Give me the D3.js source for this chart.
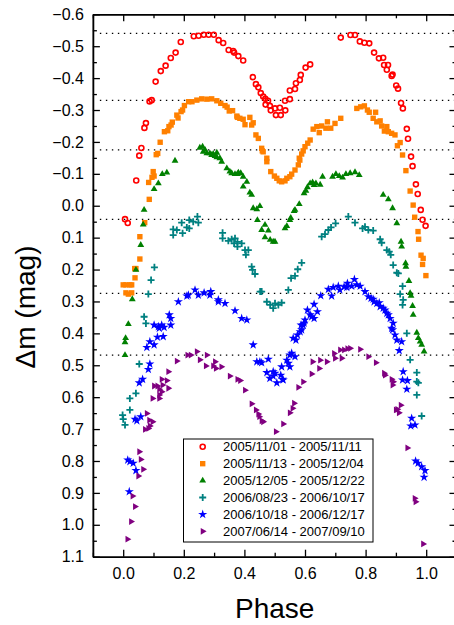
<!DOCTYPE html>
<html><head><meta charset="utf-8">
<script src="https://cdn.jsdelivr.net/npm/d3@7"></script>
<style>body{margin:0;background:#fff} svg{display:block} text{font-family:"Liberation Sans",Arial,sans-serif}</style>
</head><body><svg id="c" width="454" height="625"></svg>
<script>
const seriesNames = ["2005/11/01 - 2005/11/11","2005/11/13 - 2005/12/04","2005/12/05 - 2005/12/22","2006/08/23 - 2006/10/17","2006/10/18 - 2006/12/17","2007/06/14 - 2007/09/10"];
const xTicks = [0.0,0.2,0.4,0.6,0.8,1.0];
const xMinorTicks = [-0.1,0.1,0.3,0.5,0.7,0.9,1.1];
const yTicks = [-0.6,-0.5,-0.4,-0.3,-0.2,-0.1,0.0,0.1,0.2,0.3,0.4,0.5,0.6,0.7,0.8,0.9,1.0,1.1];
const yMinorTicks = [-0.55,-0.45,-0.35,-0.25,-0.15,-0.05,0.05,0.15,0.25,0.35,0.45,0.55,0.65,0.75,0.85,0.95,1.05];
const refLevels = [-0.540,-0.330,-0.175,0.0425,0.2745,0.468];

const red = [[0.006,0.042],[0.015,0.054],[0.043,-0.079],[0.053,-0.157],[0.060,-0.181],[0.070,-0.244],[0.075,-0.259],[0.087,-0.327],[0.094,-0.331],[0.107,-0.389],[0.124,-0.422],[0.140,-0.439],[0.157,-0.463],[0.173,-0.480],[0.190,-0.513],[0.233,-0.531],[0.249,-0.533],[0.266,-0.536],[0.282,-0.536],[0.299,-0.536],[0.315,-0.519],[0.330,-0.510],[0.348,-0.488],[0.363,-0.485],[0.366,-0.480],[0.380,-0.469],[0.396,-0.455],[0.428,-0.403],[0.438,-0.381],[0.446,-0.371],[0.454,-0.353],[0.462,-0.342],[0.469,-0.335],[0.478,-0.329],[0.470,-0.317],[0.484,-0.313],[0.487,-0.299],[0.501,-0.305],[0.504,-0.284],[0.517,-0.307],[0.520,-0.284],[0.535,-0.299],[0.534,-0.329],[0.550,-0.334],[0.550,-0.361],[0.567,-0.366],[0.570,-0.384],[0.583,-0.394],[0.586,-0.410],[0.602,-0.433],[0.617,-0.443],[0.718,-0.527],[0.750,-0.535],[0.765,-0.535],[0.781,-0.515],[0.796,-0.511],[0.812,-0.509],[0.828,-0.480],[0.844,-0.462],[0.858,-0.464],[0.861,-0.441],[0.874,-0.441],[0.870,-0.426],[0.889,-0.411],[0.886,-0.407],[0.901,-0.377],[0.907,-0.367],[0.917,-0.322],[0.923,-0.305],[0.936,-0.241],[0.940,-0.210],[0.950,-0.154],[0.955,-0.124],[0.966,-0.067],[0.972,-0.037],[0.982,0.013],[0.988,0.044],[0.998,0.063]];

const orange = [[0.000,0.248],[0.009,0.248],[0.022,0.248],[0.028,0.248],[0.009,0.273],[0.017,0.277],[0.028,0.273],[0.039,0.226],[0.038,0.197],[0.042,0.197],[0.055,0.167],[0.055,0.097],[0.071,0.053],[0.086,-0.020],[0.084,-0.073],[0.099,-0.107],[0.102,-0.093],[0.095,-0.089],[0.109,-0.160],[0.114,-0.164],[0.122,-0.199],[0.136,-0.232],[0.147,-0.235],[0.151,-0.248],[0.158,-0.253],[0.162,-0.262],[0.177,-0.284],[0.181,-0.275],[0.191,-0.295],[0.196,-0.300],[0.202,-0.314],[0.216,-0.326],[0.227,-0.326],[0.243,-0.331],[0.259,-0.335],[0.276,-0.334],[0.292,-0.335],[0.309,-0.329],[0.322,-0.321],[0.336,-0.314],[0.343,-0.309],[0.350,-0.297],[0.361,-0.298],[0.375,-0.281],[0.377,-0.277],[0.385,-0.274],[0.396,-0.271],[0.402,-0.254],[0.418,-0.277],[0.424,-0.253],[0.429,-0.260],[0.438,-0.222],[0.446,-0.211],[0.457,-0.180],[0.459,-0.172],[0.462,-0.169],[0.474,-0.149],[0.474,-0.138],[0.487,-0.107],[0.499,-0.093],[0.507,-0.086],[0.515,-0.078],[0.523,-0.075],[0.534,-0.078],[0.540,-0.086],[0.550,-0.091],[0.556,-0.099],[0.567,-0.112],[0.578,-0.128],[0.581,-0.149],[0.583,-0.143],[0.589,-0.162],[0.594,-0.172],[0.600,-0.185],[0.609,-0.196],[0.617,-0.206],[0.627,-0.240],[0.639,-0.248],[0.647,-0.229],[0.655,-0.250],[0.669,-0.243],[0.674,-0.263],[0.685,-0.243],[0.699,-0.258],[0.718,-0.274],[0.771,-0.305],[0.784,-0.310],[0.796,-0.313],[0.806,-0.300],[0.812,-0.293],[0.833,-0.293],[0.825,-0.274],[0.837,-0.263],[0.848,-0.266],[0.853,-0.250],[0.862,-0.234],[0.870,-0.248],[0.875,-0.232],[0.886,-0.227],[0.897,-0.222],[0.905,-0.188],[0.914,-0.198],[0.922,-0.159],[0.933,-0.110],[0.947,-0.046],[0.957,-0.002],[0.962,0.036],[0.973,0.081],[0.975,0.105],[0.983,0.155],[0.990,0.165],[0.988,0.184],[0.999,0.219]];

const green = [[0.006,0.468],[0.006,0.428],[0.008,0.415],[0.017,0.371],[0.030,0.293],[0.042,0.201],[0.058,0.123],[0.066,0.059],[0.069,0.013],[0.102,-0.052],[0.116,-0.070],[0.129,-0.099],[0.144,-0.104],[0.171,-0.141],[0.253,-0.182],[0.262,-0.185],[0.264,-0.169],[0.270,-0.175],[0.276,-0.164],[0.286,-0.164],[0.292,-0.159],[0.297,-0.162],[0.303,-0.156],[0.309,-0.166],[0.309,-0.152],[0.319,-0.149],[0.325,-0.138],[0.342,-0.117],[0.352,-0.107],[0.358,-0.102],[0.369,-0.099],[0.377,-0.099],[0.380,-0.104],[0.388,-0.102],[0.396,-0.091],[0.396,-0.060],[0.408,-0.075],[0.418,-0.041],[0.424,-0.034],[0.429,0.008],[0.441,0.011],[0.451,0.001],[0.443,0.045],[0.457,0.076],[0.468,0.060],[0.479,0.078],[0.468,0.099],[0.485,0.107],[0.495,0.113],[0.501,0.113],[0.534,0.071],[0.540,0.064],[0.550,0.045],[0.553,0.038],[0.564,0.017],[0.567,0.013],[0.581,-0.005],[0.597,-0.039],[0.603,-0.047],[0.608,-0.058],[0.617,-0.070],[0.625,-0.073],[0.630,-0.065],[0.636,-0.070],[0.650,-0.066],[0.658,-0.091],[0.691,-0.091],[0.702,-0.099],[0.713,-0.093],[0.724,-0.088],[0.735,-0.099],[0.749,-0.102],[0.765,-0.105],[0.779,-0.096],[0.858,-0.034],[0.875,-0.020],[0.889,0.008],[0.903,0.055],[0.917,0.113],[0.919,0.128],[0.932,0.180],[0.933,0.191],[0.943,0.236],[0.947,0.274],[0.950,0.282],[0.955,0.314],[0.957,0.342],[0.969,0.398],[0.974,0.415],[0.980,0.426],[0.985,0.436],[0.993,0.457]];

const teal = [[-0.002,0.656],[0.000,0.669],[0.006,0.687],[0.022,0.640],[0.022,0.604],[0.042,0.588],[0.053,0.496],[0.069,0.348],[0.075,0.369],[0.083,0.277],[0.092,0.233],[0.103,0.193],[0.165,0.074],[0.165,0.092],[0.177,0.076],[0.193,0.053],[0.196,0.086],[0.210,0.068],[0.218,0.045],[0.218,0.071],[0.231,0.050],[0.245,0.034],[0.248,0.053],[0.328,0.085],[0.328,0.102],[0.347,0.110],[0.358,0.105],[0.369,0.102],[0.366,0.118],[0.377,0.128],[0.377,0.113],[0.391,0.118],[0.402,0.139],[0.405,0.154],[0.413,0.139],[0.424,0.191],[0.427,0.201],[0.435,0.214],[0.452,0.269],[0.457,0.269],[0.474,0.301],[0.485,0.311],[0.501,0.306],[0.495,0.321],[0.512,0.311],[0.523,0.304],[0.545,0.264],[0.554,0.227],[0.567,0.220],[0.576,0.199],[0.589,0.179],[0.655,0.097],[0.666,0.089],[0.677,0.076],[0.686,0.068],[0.701,0.055],[0.743,0.034],[0.765,0.053],[0.790,0.071],[0.798,0.066],[0.809,0.076],[0.825,0.078],[0.848,0.105],[0.853,0.116],[0.870,0.139],[0.878,0.144],[0.883,0.154],[0.891,0.186],[0.903,0.210],[0.908,0.212],[0.922,0.252],[0.914,0.277],[0.924,0.295],[0.922,0.311],[0.936,0.400],[0.947,0.483],[0.969,0.523],[0.974,0.555],[0.969,0.551],[0.969,0.593],[0.985,0.659]];

const blue = [[0.015,0.797],[0.022,0.802],[0.033,0.807],[0.042,0.830],[0.020,0.896],[0.039,0.669],[0.058,0.661],[0.045,0.674],[0.064,0.544],[0.053,0.555],[0.088,0.496],[0.083,0.513],[0.088,0.426],[0.102,0.436],[0.078,0.444],[0.102,0.374],[0.116,0.379],[0.127,0.374],[0.135,0.381],[0.119,0.384],[0.132,0.410],[0.113,0.412],[0.152,0.342],[0.157,0.353],[0.157,0.374],[0.182,0.301],[0.210,0.283],[0.215,0.280],[0.237,0.264],[0.248,0.280],[0.267,0.273],[0.289,0.269],[0.286,0.280],[0.314,0.295],[0.314,0.301],[0.336,0.306],[0.369,0.329],[0.391,0.353],[0.408,0.358],[0.429,0.436],[0.441,0.489],[0.451,0.489],[0.457,0.492],[0.479,0.481],[0.474,0.523],[0.495,0.520],[0.501,0.525],[0.495,0.534],[0.484,0.541],[0.523,0.505],[0.520,0.531],[0.528,0.546],[0.507,0.555],[0.526,0.544],[0.540,0.484],[0.545,0.494],[0.550,0.505],[0.550,0.468],[0.556,0.462],[0.567,0.473],[0.561,0.415],[0.570,0.421],[0.575,0.405],[0.584,0.395],[0.589,0.389],[0.587,0.374],[0.597,0.368],[0.600,0.358],[0.594,0.374],[0.608,0.327],[0.617,0.342],[0.622,0.348],[0.630,0.353],[0.630,0.309],[0.641,0.332],[0.652,0.282],[0.677,0.262],[0.688,0.283],[0.693,0.256],[0.710,0.252],[0.715,0.264],[0.729,0.254],[0.740,0.243],[0.738,0.256],[0.754,0.252],[0.763,0.231],[0.771,0.248],[0.782,0.252],[0.798,0.269],[0.809,0.285],[0.818,0.290],[0.825,0.293],[0.828,0.301],[0.837,0.306],[0.845,0.304],[0.848,0.316],[0.858,0.321],[0.864,0.327],[0.870,0.337],[0.875,0.342],[0.881,0.353],[0.891,0.368],[0.886,0.384],[0.889,0.389],[0.897,0.405],[0.903,0.421],[0.919,0.426],[0.911,0.454],[0.924,0.520],[0.922,0.546],[0.938,0.548],[0.936,0.575],[0.952,0.666],[0.949,0.690],[0.963,0.687],[0.965,0.800],[0.973,0.807],[0.985,0.818],[0.996,0.830],[0.993,0.851]];

const purple = [[0.014,1.045],[0.026,0.990],[0.039,0.943],[0.031,0.910],[0.050,0.847],[0.066,0.826],[0.058,0.795],[0.053,0.771],[0.072,0.701],[0.083,0.698],[0.088,0.690],[0.097,0.677],[0.078,0.651],[0.086,0.672],[0.097,0.604],[0.119,0.604],[0.119,0.593],[0.102,0.565],[0.113,0.565],[0.119,0.575],[0.127,0.583],[0.127,0.544],[0.130,0.562],[0.144,0.548],[0.149,0.572],[0.149,0.520],[0.177,0.487],[0.212,0.468],[0.223,0.468],[0.243,0.457],[0.253,0.483],[0.276,0.468],[0.273,0.502],[0.297,0.502],[0.303,0.489],[0.306,0.510],[0.324,0.505],[0.352,0.534],[0.377,0.544],[0.386,0.548],[0.402,0.578],[0.424,0.621],[0.438,0.640],[0.446,0.653],[0.449,0.661],[0.457,0.674],[0.462,0.677],[0.504,0.708],[0.528,0.684],[0.550,0.649],[0.559,0.635],[0.564,0.619],[0.578,0.569],[0.594,0.552],[0.622,0.527],[0.647,0.510],[0.625,0.489],[0.650,0.484],[0.672,0.489],[0.699,0.478],[0.696,0.463],[0.721,0.478],[0.716,0.452],[0.729,0.452],[0.740,0.448],[0.749,0.447],[0.782,0.450],[0.809,0.473],[0.834,0.492],[0.861,0.525],[0.864,0.531],[0.886,0.544],[0.889,0.562],[0.891,0.552],[0.900,0.640],[0.916,0.625],[0.910,0.649],[0.905,0.638],[0.938,0.759],[0.962,0.917],[0.965,0.928],[0.990,1.060]];

const seriesData = [red, orange, green, teal, blue, purple];
const seriesColors = ["#ff0000","#ff8000","#008000","#008080","#0000ff","#800080"];
const seriesShapes = ["circle","square","triangle","cross","star","rtriangle"];

const svg = d3.select("#c");
const x = d3.scaleLinear().domain([-0.1, 1.1]).range([92.9, 456.5]);
const y = d3.scaleLinear().domain([-0.6, 1.1]).range([14.3, 556.7]);
const fmt = d3.format(".1f");

// reference dotted lines
svg.append("g").selectAll("line").data(refLevels).join("line")
  .attr("x1", x(-0.077)).attr("x2", x(1.1))
  .attr("y1", d => y(d)).attr("y2", d => y(d))
  .attr("stroke", "#000").attr("stroke-width", 1.3).attr("stroke-dasharray", "1.4 4.6");

function drawMarker(sel, shape, color) {
  if (shape === "circle") {
    sel.append("circle").attr("r", 2.5).attr("fill", "none").attr("stroke", color).attr("stroke-width", 1.6);
  } else if (shape === "square") {
    sel.append("path").attr("d", d3.symbol(d3.symbolSquare, 29)()).attr("fill", color);
  } else if (shape === "triangle") {
    sel.append("path").attr("d", d3.symbol(d3.symbolTriangle, 20)()).attr("fill", color);
  } else if (shape === "rtriangle") {
    sel.append("path").attr("d", d3.symbol(d3.symbolTriangle, 20)()).attr("transform", "rotate(90)").attr("fill", color);
  } else if (shape === "star") {
    sel.append("path").attr("d", d3.symbol(d3.symbolStar, 26)()).attr("fill", color);
  } else if (shape === "cross") {
    sel.append("path").attr("d", "M-3.5,0H3.5M0,-3.5V3.5").attr("stroke", color).attr("stroke-width", 1.8).attr("fill", "none");
  }
}

seriesData.forEach((data, i) => {
  const g = svg.append("g");
  g.selectAll("g").data(data).join("g")
    .attr("transform", d => `translate(${x(d[0])},${y(d[1])})`)
    .each(function() { drawMarker(d3.select(this), seriesShapes[i], seriesColors[i]); });
});

// axes
const axStyle = g => {
  g.selectAll(".domain").attr("stroke", "#000").attr("stroke-width", 1.5);
  g.selectAll(".tick line").attr("stroke", "#000").attr("stroke-width", 1.3);
  g.selectAll("text").attr("font-size", 16).attr("fill", "#000").attr("font-family", '"Liberation Sans",Arial,sans-serif');
};
svg.append("g").attr("transform", `translate(${x(-0.1)},0)`)
  .call(d3.axisLeft(y).tickValues(yTicks).tickFormat(fmt).tickSize(-7).tickPadding(9).tickSizeOuter(0)).call(axStyle);
svg.append("g").attr("transform", `translate(${x(-0.1)},0)`)
  .call(d3.axisLeft(y).tickValues(yMinorTicks).tickFormat("").tickSize(-4).tickSizeOuter(0)).call(axStyle);
svg.append("g").attr("transform", `translate(${x(1.1)},0)`)
  .call(d3.axisRight(y).tickValues(yTicks).tickFormat("").tickSize(-7).tickSizeOuter(0)).call(axStyle);
svg.append("g").attr("transform", `translate(${x(1.1)},0)`)
  .call(d3.axisRight(y).tickValues(yMinorTicks).tickFormat("").tickSize(-4).tickSizeOuter(0)).call(axStyle);
svg.append("g").attr("transform", `translate(0,${y(1.1)})`)
  .call(d3.axisBottom(x).tickValues(xTicks).tickFormat(fmt).tickSize(-7).tickPadding(11).tickSizeOuter(0)).call(axStyle);
svg.append("g").attr("transform", `translate(0,${y(1.1)})`)
  .call(d3.axisBottom(x).tickValues(xMinorTicks).tickFormat("").tickSize(-4).tickSizeOuter(0)).call(axStyle);
svg.append("g").attr("transform", `translate(0,${y(-0.6)})`)
  .call(d3.axisTop(x).tickValues(xTicks).tickFormat("").tickSize(-7).tickSizeOuter(0)).call(axStyle);
svg.append("g").attr("transform", `translate(0,${y(-0.6)})`)
  .call(d3.axisTop(x).tickValues(xMinorTicks).tickFormat("").tickSize(-4).tickSizeOuter(0)).call(axStyle);

// axis titles
svg.append("text").attr("x", (x(-0.1) + x(1.1)) / 2).attr("y", 618)
  .attr("text-anchor", "middle").attr("font-size", 28).text("Phase");
svg.append("text").attr("transform", "translate(35,307) rotate(-90)")
  .attr("text-anchor", "middle").attr("font-size", 28).text("Δm (mag)");

// legend
const lg = svg.append("g");
lg.append("rect").attr("x", 183.5).attr("y", 439).attr("width", 189.5).attr("height", 103)
  .attr("fill", "#fff").attr("stroke", "#000").attr("stroke-width", 1);
seriesNames.forEach((name, i) => {
  const cy = 446.8 + i * 16.9;
  const m = lg.append("g").attr("transform", `translate(202.7,${cy})`);
  drawMarker(m, seriesShapes[i], seriesColors[i]);
  lg.append("text").attr("x", 223).attr("y", cy).attr("dy", "0.36em")
    .attr("font-size", 13).attr("fill", "#000").text(name);
});
</script></body></html>
